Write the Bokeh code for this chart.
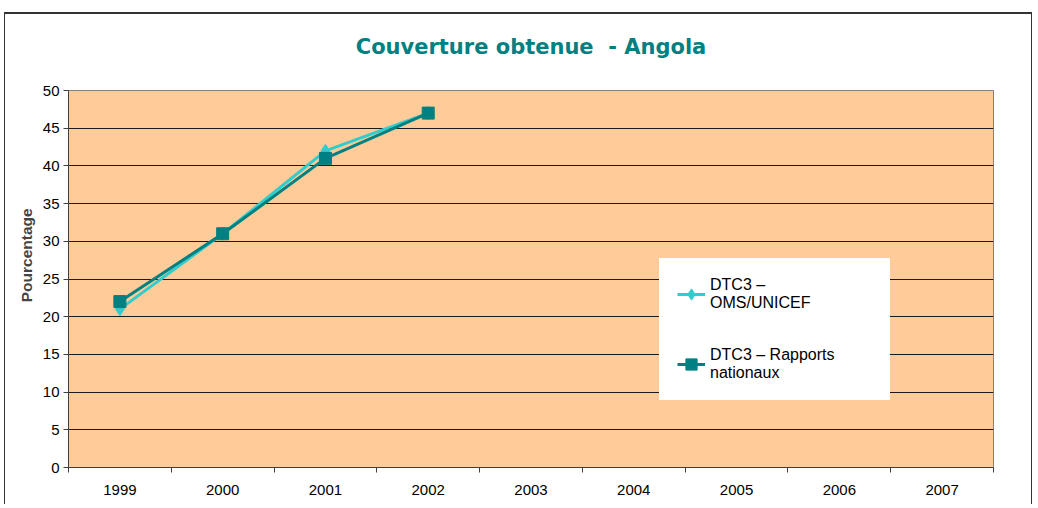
from bokeh.plotting import figure
from bokeh.models import FixedTicker, Legend, LegendItem, Title, ColumnDataSource
from bokeh.embed import file_html
from bokeh.resources import INLINE

years = ["1999", "2000", "2001", "2002", "2003", "2004", "2005", "2006", "2007"]
oms_years = ["1999", "2000", "2001", "2002"]
oms_unicef = [21, 31, 42, 47]
rapports_years = ["1999", "2000", "2001", "2002"]
rapports_nationaux = [22, 31, 41, 47]
y_ticks = [0, 5, 10, 15, 20, 25, 30, 35, 40, 45, 50]

TEAL = "#008080"
TURQ = "#33CCCC"

pos = {y: i + 0.5 for i, y in enumerate(years)}

p = figure(width=1028, height=492, output_backend="svg", toolbar_location=None,
           x_range=(0, len(years)), y_range=(0, 50),
           min_border_left=63, min_border_right=40, min_border_top=74, min_border_bottom=39)
p.styles = {"margin-left": "4px", "margin-top": "12px",
            "border-top": "2px solid #333333", "border-left": "1px solid #333333",
            "border-right": "1px solid #333333"}

p.background_fill_color = "#FFCC99"
p.border_fill_color = "white"
p.outline_line_color = "#808080"
p.outline_line_width = 1

p.title = Title(text="Couverture obtenue \u00a0- Angola", align="center",
                text_font="DejaVu Sans", text_font_size="21px", text_font_style="bold",
                text_color=TEAL, offset=0, standoff=36)
# empty spacer between the title and the plot area
p.add_layout(Title(text=" ", text_font_size="1px", standoff=11), "above")

# x axis: labels at category centres, ticks at boundaries
p.xaxis.ticker = FixedTicker(ticks=[pos[y] for y in years],
                             minor_ticks=list(range(len(years) + 1)))
p.xaxis.major_label_overrides = {pos[y]: y for y in years}
p.xaxis.major_tick_out = 0
p.xaxis.major_tick_in = 0
p.xaxis.minor_tick_out = 5
p.xaxis.minor_tick_in = 0
p.xaxis.major_label_standoff = 12
p.xaxis.axis_line_color = "#404040"
p.xaxis.minor_tick_line_color = "#404040"

p.yaxis.ticker = FixedTicker(ticks=y_ticks)
p.yaxis.minor_tick_line_color = None
p.yaxis.major_tick_out = 5
p.yaxis.major_tick_in = 0
p.yaxis.axis_line_color = "#404040"
p.yaxis.major_tick_line_color = "#404040"
p.yaxis.axis_label = "\u00a0" * 11 + "Pourcentage"
p.yaxis.axis_label_text_font = "Liberation Sans"
p.yaxis.axis_label_text_font_style = "bold"
p.yaxis.axis_label_text_font_size = "15.5px"
p.yaxis.axis_label_standoff = 5
p.yaxis.major_label_standoff = 4

for ax in (p.xaxis, p.yaxis):
    ax.major_label_text_font = "Liberation Sans"
    ax.major_label_text_font_size = "15px"
    ax.major_label_text_color = "black"

p.xgrid.grid_line_color = None
p.ygrid.grid_line_color = "#1a1a1a"
p.ygrid.grid_line_width = 1

src_o = ColumnDataSource(dict(x=[pos[y] for y in oms_years], y=oms_unicef))
src_r = ColumnDataSource(dict(x=[pos[y] for y in rapports_years], y=rapports_nationaux))

lo = p.line("x", "y", source=src_o, line_color=TURQ, line_width=3)
mo = p.scatter("x", "y", source=src_o, marker="diamond", size=13,
               fill_color=TURQ, line_color=TURQ)
lr = p.line("x", "y", source=src_r, line_color=TEAL, line_width=3)
mr = p.scatter("x", "y", source=src_r, marker="square", size=12,
               fill_color=TEAL, line_color=TEAL)

legend = Legend(items=[
    LegendItem(label="DTC3 –\nOMS/UNICEF", renderers=[lo, mo]),
    LegendItem(label="DTC3 – Rapports\nnationaux", renderers=[lr, mr]),
], location=(591, 67))
legend.background_fill_color = "white"
legend.background_fill_alpha = 1
legend.border_line_color = "white"
legend.border_line_width = 18
legend.label_text_font = "Liberation Sans"
legend.label_text_font_size = "16px"
legend.label_text_color = "black"
legend.glyph_width = 28
legend.glyph_height = 36
legend.label_height = 36
legend.label_width = 162
legend.label_standoff = 5
legend.padding = 0
legend.spacing = 34
legend.margin = 0
p.add_layout(legend)

open("out.html", "w").write(file_html(p, INLINE))
